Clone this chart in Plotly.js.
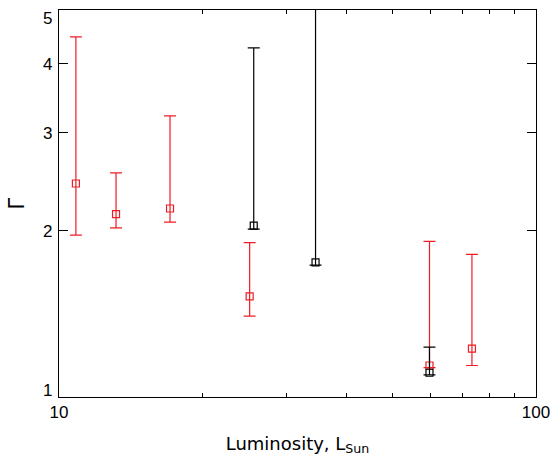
<!DOCTYPE html>
<html>
<head>
<meta charset="utf-8">
<script src="https://cdn.plot.ly/plotly-3.0.1.min.js"></script>
<style>body{margin:0;padding:0;background:#fff}#chart{width:554px;height:458px}</style>
</head>
<body>
<div id="chart"></div>
<script>
// Red series
const redLum = [10.85, 13.17, 17.09, 25.1, 59.8, 73.4];
const redGamma = [2.43, 2.14, 2.19, 1.52, 1.14, 1.223];
const redUpper = [4.47, 2.54, 3.22, 1.90, 1.91, 1.81];
const redLower = [1.96, 2.02, 2.07, 1.40, 1.13, 1.14];
// Black series
const blackLum = [25.6, 34.5, 59.8];
const blackGamma = [2.04, 1.75, 1.106];
const blackUpper = [4.27, 6.5, 1.23];
const blackLower = [2.01, 1.73, 1.096];
// Ticks
const xMajor = [10, 100];
const xMinor = [20, 30, 40, 50, 60, 70, 80, 90];
const yTicks = [1, 2, 3, 4, 5];

function plus(v, u) { return v.map((d, i) => u[i] - d); }
function minus(v, l) { return v.map((d, i) => d - l[i]); }

const fontFam = "Liberation Sans, Arial, sans-serif";
const titleFam = "DejaVu Sans, sans-serif";

const traces = [
  {
    x: redLum, y: redGamma, type: 'scatter', mode: 'markers',
    marker: {symbol: 'square-open', size: 7, color: '#ee1c25', line: {width: 1.2}},
    error_y: {type: 'data', symmetric: false, array: plus(redGamma, redUpper), arrayminus: minus(redGamma, redLower),
      color: '#ee1c25', thickness: 1.2, width: 6},
    showlegend: false, xaxis: 'x', yaxis: 'y'
  },
  {
    x: blackLum, y: blackGamma, type: 'scatter', mode: 'markers',
    marker: {symbol: 'square-open', size: 7, color: '#000', line: {width: 1.2}},
    error_y: {type: 'data', symmetric: false, array: plus(blackGamma, blackUpper), arrayminus: minus(blackGamma, blackLower),
      color: '#000', thickness: 1.2, width: 6},
    showlegend: false, xaxis: 'x', yaxis: 'y'
  },
  {
    x: [xMinor[0]], y: [1.5], type: 'scatter', mode: 'markers', marker: {opacity: 0},
    hoverinfo: 'skip', showlegend: false, xaxis: 'x2', yaxis: 'y'
  }
];

// y tick labels as annotations so the end labels can sit inside the axis span
const yLabelAnn = yTicks.map((v, i) => ({
  xref: 'paper', yref: 'y', x: 0, y: Math.log10(v), text: String(v),
  showarrow: false, xanchor: 'right', yanchor: 'middle', xshift: -5,
  yshift: i === 0 ? 7 : (i === yTicks.length - 1 ? -8 : -1),
  font: {size: 17, family: fontFam, color: '#000'}
}));

const xr = [1, 2];
const layout = {
  width: 554, height: 458,
  margin: {l: 59, r: 18, t: 10, b: 61},
  paper_bgcolor: '#fff', plot_bgcolor: '#fff',
  font: {family: fontFam, color: '#000', size: 17},
  annotations: yLabelAnn,
  xaxis: {
    type: 'log', range: xr, tickvals: xMajor, ticktext: ['10', '100'],
    ticks: 'inside', ticklen: 9, tickwidth: 1, tickcolor: '#000',
    showline: true, linecolor: '#000', linewidth: 1, mirror: 'ticks',
    showgrid: false, zeroline: false,
    tickfont: {size: 17, family: fontFam},
    title: {text: 'Luminosity, L<sub>Sun</sub>', font: {size: 18, family: titleFam}, standoff: 15}
  },
  xaxis2: {
    type: 'log', range: xr, overlaying: 'x', anchor: 'y', side: 'bottom',
    tickvals: xMinor, showticklabels: false,
    ticks: 'inside', ticklen: 4, tickwidth: 1, tickcolor: '#000',
    showline: false, mirror: 'ticks', showgrid: false, zeroline: false
  },
  yaxis: {
    type: 'log', range: [0, Math.log10(5)], tickvals: yTicks, showticklabels: false,
    ticks: 'inside', ticklen: 9, tickwidth: 1, tickcolor: '#000',
    showline: true, linecolor: '#000', linewidth: 1, mirror: 'ticks',
    showgrid: false, zeroline: false
  }
};

Plotly.newPlot('chart', traces, layout, {displayModeBar: false, staticPlot: true}).then(() => {
  // y-axis title (Γ), rotated like an axis title
  Plotly.relayout('chart', {
    'annotations[5]': {
      xref: 'paper', yref: 'paper', x: 0, y: 0.5, xshift: -43, yshift: 0,
      text: 'Γ', textangle: -90, showarrow: false, xanchor: 'center', yanchor: 'middle',
      font: {size: 21, family: titleFam, color: '#000'}
    }
  });
});
</script>
</body>
</html>
